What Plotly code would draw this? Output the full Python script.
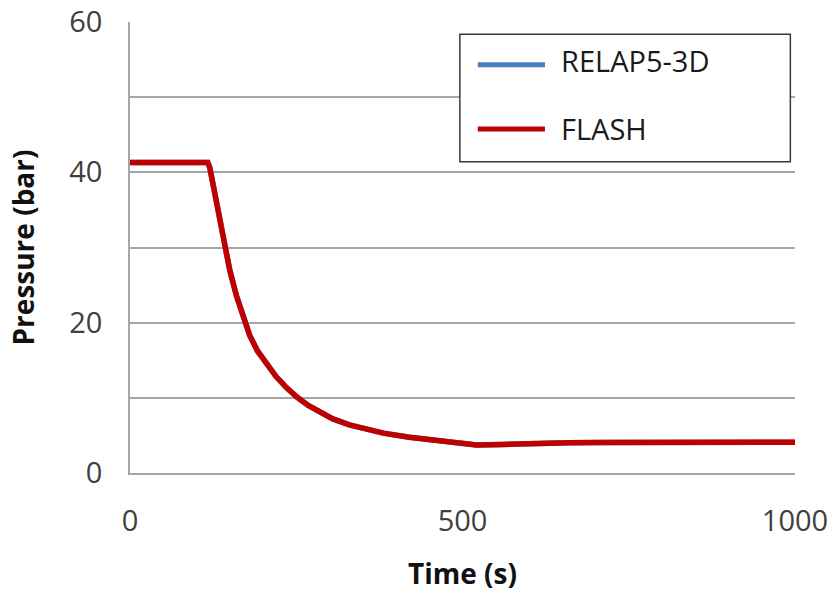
import plotly.graph_objects as go

# Depressurisation transient: pressure vs time for two codes
time_s = [0, 117, 120, 125, 130, 135, 140, 150, 160, 170, 180, 192, 206, 220,
          236, 251, 268, 285, 305, 330, 355, 381, 420, 456, 490, 521, 560,
          606, 660, 707, 800, 1000]
relap_bar = [41.3, 41.3, 40.6, 38.3, 35.8, 33.3, 30.9, 27.0, 23.6, 20.7, 18.3,
             16.2, 14.4, 12.8, 11.3, 10.1, 9.0, 8.1, 7.2, 6.4, 5.8, 5.3, 4.75,
             4.35, 4.0, 3.72, 3.8, 3.95, 4.02, 4.07, 4.1, 4.1]
flash_bar = [41.3, 41.3, 40.6, 38.3, 35.8, 33.3, 30.9, 27.0, 23.6, 20.7, 18.3,
             16.2, 14.4, 12.8, 11.3, 10.1, 9.0, 8.1, 7.2, 6.4, 5.8, 5.3, 4.75,
             4.35, 4.0, 3.72, 3.8, 3.95, 4.02, 4.07, 4.1, 4.1]

series_names = ["RELAP5-3D", "FLASH"]
series_colors = ["#4A7EBB", "#C00000"]

x_ticks = [0, 500, 1000]
y_ticks = [0, 20, 40, 60]

FONT = "Open Sans"
GRID = "#a6a6a6"

fig = go.Figure()
for name, ys, col in zip(series_names, [relap_bar, flash_bar], series_colors):
    fig.add_trace(go.Scatter(
        x=time_s, y=ys, mode="lines", name=name,
        line=dict(color=col, width=5.5),
        showlegend=False,
    ))

# Boxed legend with long line samples
shapes = [dict(type="rect", xref="paper", yref="paper",
               x0=0.496, x1=0.993, y0=0.690, y1=0.973,
               line=dict(color="#3a3a3a", width=1.5), fillcolor="white",
               layer="above")]
annotations = []
for name, col, ly, ty in zip(series_names, series_colors,
                             [0.905, 0.763], [0.914, 0.763]):
    shapes.append(dict(type="line", xref="paper", yref="paper",
                       x0=0.523, x1=0.624, y0=ly, y1=ly,
                       line=dict(color=col, width=5), layer="above"))
    annotations.append(dict(xref="paper", yref="paper", x=0.645, y=ty,
                            text=name, showarrow=False, xanchor="left",
                            yanchor="middle",
                            font=dict(family=FONT, size=29, color="#1a1a1a")))

fig.update_layout(
    width=835, height=596,
    margin=dict(l=130, r=40, t=22, b=123),
    paper_bgcolor="white", plot_bgcolor="white",
    font=dict(family=FONT, size=28, color="#404040"),
    shapes=shapes, annotations=annotations,
)

fig.update_xaxes(
    range=[0, 1000], tickvals=x_ticks, ticktext=[str(v) for v in x_ticks],
    showgrid=False, zeroline=False, automargin=False,
    showline=True, linecolor=GRID, linewidth=1.5,
    ticks="", ticklabelstandoff=21,
    tickfont=dict(family=FONT, size=29, color="#404040"),
    title=dict(text="<b>Time (s)</b>", standoff=27,
               font=dict(family=FONT, size=28, color="#111111")),
)
fig.update_yaxes(
    range=[0, 60], tickvals=y_ticks, ticktext=[str(v) for v in y_ticks],
    showgrid=True, gridcolor=GRID, gridwidth=1.5,
    minor=dict(dtick=10, showgrid=True, gridcolor=GRID, gridwidth=1.5),
    zeroline=False, automargin=False,
    showline=True, linecolor=GRID, linewidth=1.5,
    ticks="", ticklabelstandoff=20,
    tickfont=dict(family=FONT, size=29, color="#404040"),
    title=dict(text="<b>Pressure (bar)</b>", standoff=26,
               font=dict(family=FONT, size=28, color="#111111")),
)

fig.write_html("out.html")
